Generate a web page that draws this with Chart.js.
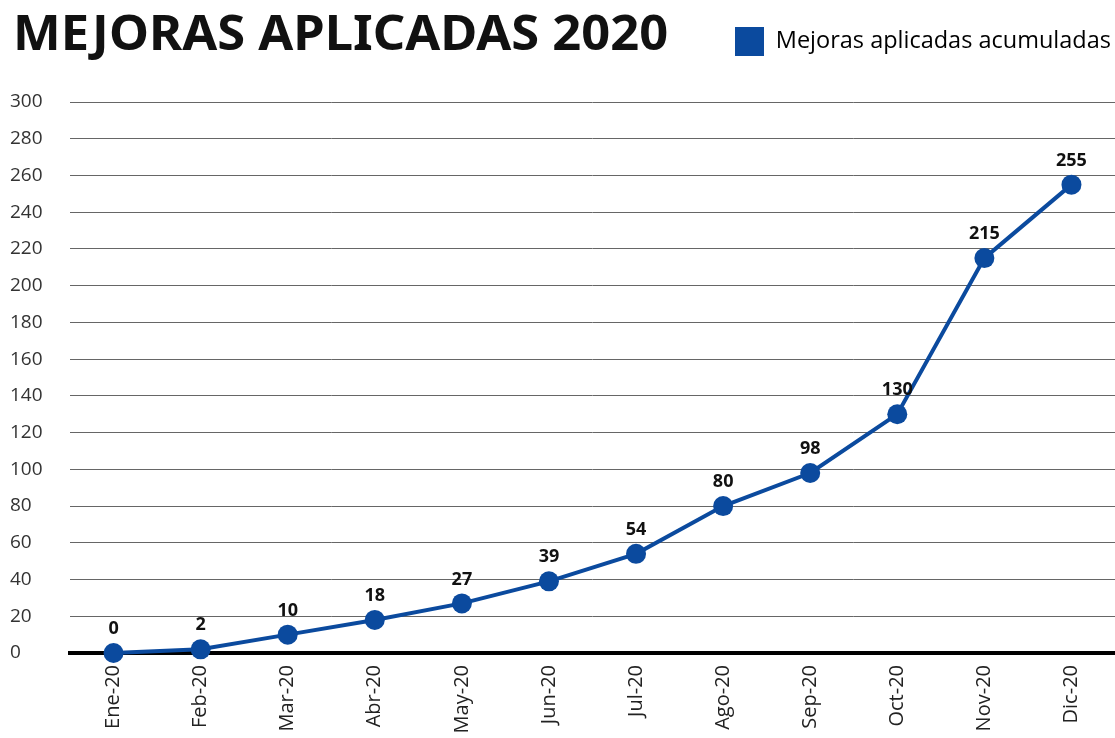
<!DOCTYPE html>
<html><head><meta charset="utf-8">
<script src="https://cdn.jsdelivr.net/npm/chart.js@4/dist/chart.umd.min.js"></script>
<style>
html,body{margin:0;padding:0;background:#fff;}
#wrap{position:relative;width:1115px;height:738px;overflow:hidden;}
#title{position:absolute;left:13px;top:7px;font:700 49px "Noto Sans",sans-serif;line-height:49px;color:#111;white-space:nowrap;transform-origin:0 0;}
canvas{position:absolute;left:0;top:0;}
</style></head>
<body>
<div id="wrap">
<canvas id="c" width="1125" height="738"></canvas>
<span id="title">MEJORAS APLICADAS 2020</span>
</div>
<script>
const categories = ["Ene-20","Feb-20","Mar-20","Abr-20","May-20","Jun-20","Jul-20","Ago-20","Sep-20","Oct-20","Nov-20","Dic-20"];
const mejorasAcumuladas = [0, 2, 10, 18, 27, 39, 54, 80, 98, 130, 215, 255];
const seriesName = "Mejoras aplicadas acumuladas";
const yTicks = [0,20,40,60,80,100,120,140,160,180,200,220,240,260,280,300];

const t = document.getElementById('title');
const tw = t.offsetWidth;
t.style.transform = 'scaleX(' + (655 / tw) + ')';

const BLUE = '#0b4a9e';

const legendHeight = {
  id: 'legendHeight',
  beforeUpdate(chart) {
    const lg = chart.legend;
    if (lg && !lg._patched) {
      const orig = lg.fit;
      lg.fit = function () { orig.call(this); this.height = 79; };
      lg._patched = true;
    }
  }
};

const valueLabels = {
  id: 'valueLabels',
  afterDatasetsDraw(chart) {
    const ctx = chart.ctx;
    const meta = chart.getDatasetMeta(0);
    ctx.save();
    ctx.font = '700 18px "Open Sans", sans-serif';
    ctx.fillStyle = '#111';
    ctx.textAlign = 'center';
    ctx.textBaseline = 'middle';
    meta.data.forEach((pt, i) => {
      ctx.fillText(String(chart.data.datasets[0].data[i]), pt.x, pt.y - 24);
    });
    ctx.restore();
  }
};

new Chart(document.getElementById('c'), {
  type: 'line',
  data: {
    labels: categories,
    datasets: [{
      label: seriesName,
      data: mejorasAcumuladas,
      borderColor: BLUE,
      backgroundColor: BLUE,
      borderWidth: 4,
      pointRadius: 10,
      pointHoverRadius: 10,
      pointBackgroundColor: BLUE,
      pointBorderWidth: 0,
      tension: 0,
      clip: false
    }]
  },
  options: {
    responsive: false,
    animation: false,
    devicePixelRatio: 1,
    layout: { padding: { left: 10, right: 10, top: 23, bottom: 0 } },
    plugins: {
      title: { display: false },
      tooltip: { enabled: false },
      legend: {
        display: true,
        position: 'top',
        align: 'end',
        labels: {
          boxWidth: 29,
          boxHeight: 29,
          padding: 4,
          color: '#222',
          font: { family: '"Open Sans", sans-serif', size: 23.5 },
          generateLabels(chart) {
            return [{ text: seriesName, fillStyle: BLUE, strokeStyle: BLUE, lineWidth: 0, datasetIndex: 0 }];
          }
        }
      }
    },
    scales: {
      x: {
        type: 'category',
        offset: true,
        grid: { display: false, drawTicks: false },
        border: { display: true, color: '#000', width: 4 },
        afterFit(scale) { scale.height = 85; scale.paddingLeft = 0; scale.paddingRight = 0; },
        ticks: {
          minRotation: 90, maxRotation: 90,
          padding: 12,
          color: '#222',
          font: { family: '"Open Sans", sans-serif', size: 20 }
        }
      },
      y: {
        min: 0, max: 300,
        afterBuildTicks(scale) { scale.ticks = yTicks.map(v => ({ value: v })); },
        afterFit(scale) { scale.width = 60; scale.paddingTop = 0; scale.paddingBottom = 0; },
        grid: {
          color: (c) => c.tick && c.tick.value === 0 ? 'rgba(0,0,0,0)' : '#666',
          lineWidth: 1,
          drawTicks: false
        },
        border: { display: false },
        ticks: {
          crossAlign: 'far',
          padding: 25,
          color: '#333',
          font: { family: '"Open Sans", sans-serif', size: 19 }
        }
      }
    }
  },
  plugins: [legendHeight, valueLabels]
});
</script>
</body></html>
